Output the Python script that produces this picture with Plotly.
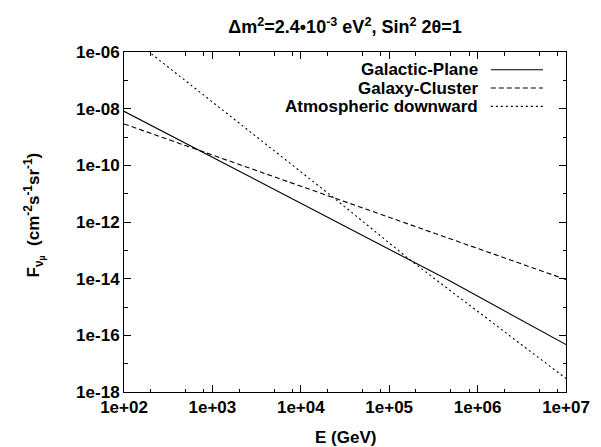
import plotly.graph_objects as go

# ---- data ----
E_gp = [1e2, 4.6e5, 1e7]
F_gp = [8.1e-9, 9.1e-15, 4.7e-17]

E_gc = [1e2, 1e7]
F_gc = [2.9e-9, 9.3e-15]

E_atm = [1e2, 2.3e4, 1.8e5, 1e7]
F_atm = [5.0e-6, 7.6e-12, 4.1e-14, 3.0e-18]

series_names = ["Galactic-Plane", "Galaxy-Cluster", "Atmospheric downward"]
series_dash = ["solid", "5px,3px", "2px,3px"]

x_tickvals = [1e2, 1e3, 1e4, 1e5, 1e6, 1e7]
x_ticktext = ["1e+02", "1e+03", "1e+04", "1e+05", "1e+06", "1e+07"]
x_minor = [m * 10 ** d for d in range(2, 7) for m in (2, 5, 8)]

y_tickvals = [1e-18, 1e-16, 1e-14, 1e-12, 1e-10, 1e-08, 1e-06]
y_ticktext = ["1e-18", "1e-16", "1e-14", "1e-12", "1e-10", "1e-08", "1e-06"]
y_minor = [1e-17, 1e-15, 1e-13, 1e-11, 1e-09, 1e-07]

FONT = "Liberation Sans, Arial, sans-serif"

fig = go.Figure()
for E, F, name, dash in zip([E_gp, E_gc, E_atm], [F_gp, F_gc, F_atm], series_names, series_dash):
    fig.add_trace(go.Scatter(x=E, y=F, mode="lines", name=name,
                             line=dict(color="black", width=1.1, dash=dash),
                             showlegend=False))

# custom gnuplot-style legend (text right-aligned, sample to the right)
leg_y = [0.948, 0.894, 0.840]
for name, dash, yy in zip(series_names, series_dash, leg_y):
    fig.add_annotation(x=0.805, y=yy, xref="paper", yref="paper", text=name,
                       showarrow=False, xanchor="right", yanchor="middle",
                       font=dict(family=FONT, size=17, color="black", weight="bold"))
    fig.add_shape(type="line", xref="paper", yref="paper", x0=0.830, x1=0.948,
                  y0=yy, y1=yy, line=dict(color="black", width=1.1, dash=dash))

fig.add_annotation(x=0.5, y=-0.135, xref="paper", yref="paper", text="E (GeV)",
                   showarrow=False, xanchor="center", yanchor="middle",
                   font=dict(family=FONT, size=17, color="black", weight="bold"))
fig.add_annotation(x=-0.203, y=0.52, xref="paper", yref="paper",
                   text="F<sub>ν<sub>μ</sub></sub>  (cm<sup>-2</sup>s<sup>-1</sup>sr<sup>-1</sup>)",
                   textangle=-90, showarrow=False, xanchor="center", yanchor="middle",
                   font=dict(family=FONT, size=17, color="black", weight="bold"))

axis_common = dict(type="log", ticks="inside", ticklen=7, tickwidth=1, tickcolor="black",
                   showline=True, linecolor="black", linewidth=1, mirror="allticks",
                   showgrid=False, zeroline=False,
                   tickfont=dict(family=FONT, size=17, color="black", weight="bold"))

fig.update_xaxes(range=[2, 7], tickmode="array", tickvals=x_tickvals, ticktext=x_ticktext,
                 minor=dict(tickmode="array", tickvals=x_minor, ticks="inside", ticklen=3.5,
                            tickcolor="black", showgrid=False),
                 **axis_common)
fig.update_yaxes(range=[-18, -6], tickmode="array", tickvals=y_tickvals, ticktext=y_ticktext,
                 minor=dict(tickmode="array", tickvals=y_minor, ticks="inside", ticklen=3.5,
                            tickcolor="black", showgrid=False),
                 **axis_common)

fig.update_layout(
    width=601, height=447,
    margin=dict(l=116, r=43, t=44, b=63),
    paper_bgcolor="white", plot_bgcolor="white",
    font=dict(family=FONT, size=17, color="black", weight="bold"),
    title=dict(text="Δm<sup>2</sup>=2.4•10<sup>-3</sup> eV<sup>2</sup>, Sin<sup>2</sup> 2θ=1",
               x=0.5, xref="paper", xanchor="center",
               y=1 - 19 / 447, yref="container", yanchor="middle",
               font=dict(family=FONT, size=18, color="black", weight="bold")),
    showlegend=False,
)

fig.write_html("out.html")
